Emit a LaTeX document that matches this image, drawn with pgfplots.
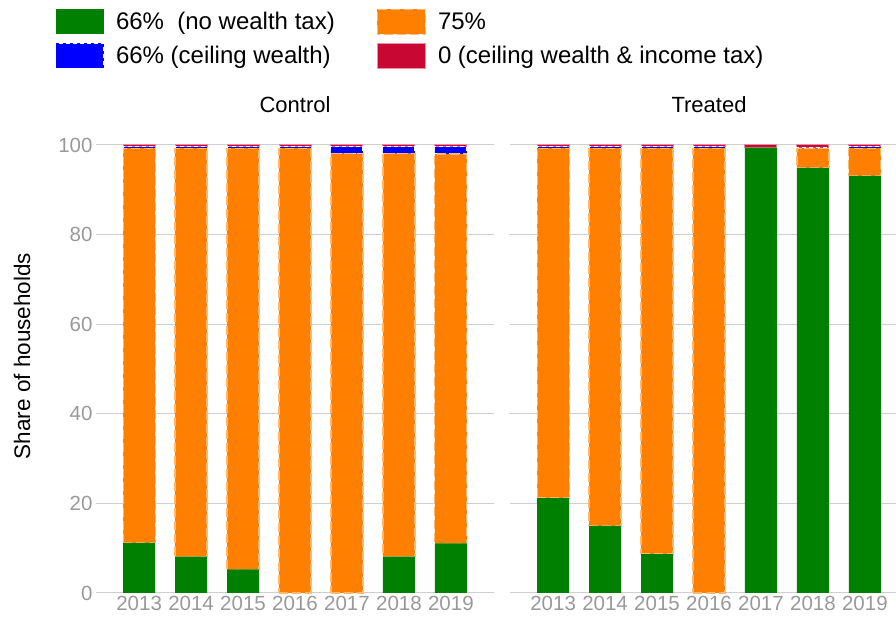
\documentclass[border=0pt]{standalone}
\usepackage{fontspec}
\setmainfont{Liberation Sans}
\usepackage{pgfplots}
\pgfplotsset{compat=1.18}

\definecolor{grn}{HTML}{008000}
\definecolor{org}{HTML}{FF8000}
\definecolor{orgline}{HTML}{FFB870}
\definecolor{blu}{HTML}{0000FF}
\definecolor{crim}{RGB}{200,8,50}
\definecolor{crimline}{RGB}{235,140,160}
\definecolor{tickgray}{HTML}{999999}
\definecolor{gridgray}{HTML}{CFCFCF}

\pgfplotsset{
  panel/.style={
    scale only axis, width=398pt, height=470.4pt,
    anchor=south west,
    ybar stacked, bar width=32pt,
    xmin=-0.83, xmax=6.83, ymin=0, ymax=105,
    axis line style={draw=none}, tick style={draw=none},
    major tick length=0pt,
    ymajorgrids, grid style={gridgray, line width=1pt},
    ytick={0,20,...,100},
    xtick={0,...,6}, xticklabels={2013,2014,2015,2016,2017,2018,2019},
    tick label style={font=\fontsize{20.5}{22}\selectfont, text=tickgray},
    /pgf/number format/assume math mode=true,
    clip=false,
  },
  gbar/.style={fill=grn, draw=none},
  obar/.style={fill=org, draw=orgline, line width=1.2pt, dash pattern=on 9pt off 4pt},
  bbar/.style={fill=blu, draw=white, line width=1pt, dash pattern=on 4pt off 3pt},
  rbar/.style={fill=crim, draw=crimline, line width=1pt},
}

\begin{document}
\begin{tikzpicture}
\begin{axis}[panel, at={(96pt,27pt)},
  legend columns=2, legend cell align=left,
  legend image code/.code={\fill[#1] (0pt,-12.5pt) rectangle (48pt,12.5pt);
    \path (58pt,0pt);},
  legend style={at={(axis description cs:-0.111,1.247)}, anchor=north west,
    draw=none, fill=none, font=\fontsize{24}{25}\selectfont, row sep=8pt,
    /tikz/every even column/.append style={column sep=40pt}}]
\addplot+[gbar] coordinates {(0,11.2) (1,8.1) (2,5.3) (3,0) (4,0) (5,8.1) (6,11.1)};
\addlegendentry{66\%\ \ (no wealth tax)}
\addplot+[obar] coordinates {(0,88.1) (1,91.2) (2,94.0) (3,99.3) (4,98.1) (5,90.0) (6,86.9)};
\addlegendentry{75\%}
\addplot+[bbar] coordinates {(0,0.3) (1,0.3) (2,0.3) (3,0.3) (4,1.5) (5,1.5) (6,1.6)};
\addlegendentry{66\% (ceiling wealth)}
\addplot+[rbar] coordinates {(0,0.4) (1,0.4) (2,0.4) (3,0.4) (4,0.4) (5,0.4) (6,0.4)};
\addlegendentry{0 (ceiling wealth \& income tax)}
\node[font=\fontsize{22}{24}\selectfont] at (rel axis cs:0.5,1) [yshift=18pt] {Control};
\end{axis}

\begin{axis}[panel, at={(510pt,27pt)}, yticklabels={}]
\addplot+[gbar] coordinates {(0,21.2) (1,15.0) (2,8.7) (3,0) (4,99.4) (5,94.9) (6,93.1)};
\addplot+[obar] coordinates {(0,78.1) (1,84.3) (2,90.6) (3,99.3) (4,0) (5,4.3) (6,6.2)};
\addplot+[bbar] coordinates {(0,0.3) (1,0.3) (2,0.3) (3,0.3) (4,0) (5,0.2) (6,0.3)};
\addplot+[rbar] coordinates {(0,0.4) (1,0.4) (2,0.4) (3,0.4) (4,0.6) (5,0.6) (6,0.4)};
\node[font=\fontsize{22}{24}\selectfont] at (rel axis cs:0.5,1) [yshift=18pt] {Treated};
\end{axis}

\node[rotate=90, font=\fontsize{22.5}{24}\selectfont] at (22pt,264pt) {Share of households};

\pgfresetboundingbox
\path[use as bounding box] (0pt,0pt) rectangle (896pt,620pt);
\end{tikzpicture}
\end{document}
